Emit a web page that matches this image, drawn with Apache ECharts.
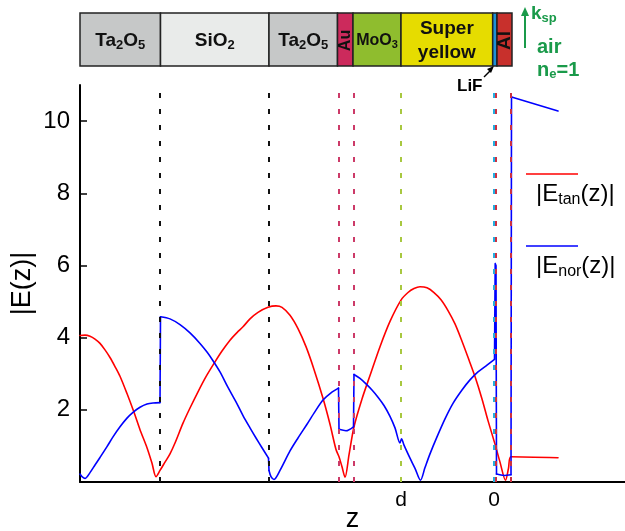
<!DOCTYPE html>
<html>
<head>
<meta charset="utf-8">
<script src="https://cdn.jsdelivr.net/npm/echarts@6/dist/echarts.min.js"></script>
<style>html,body{margin:0;padding:0;background:#fff}#c{width:625px;height:531px}</style>
</head>
<body>
<div id="c"></div>
<script>
// ---- data (z: position, 0 = LiF/Super-yellow interface, d = MoO3/Super-yellow interface) ----
const zTan = [-414,-409,-404,-399,-394,-389,-384,-379,-374,-367,-360,-354,-347,-342,-338,-334,-329,-324,-319,-311,-304,-296,-288,-279,-272,-264,-257,-251,-244,-236,-226,-218,-212,-204,-196,-188,-180,-171,-164,-158,-155,-152,-149,-145,-140,-132,-124,-114,-104,-93,-86,-80,-74,-67,-60,-53,-46,-39,-32,-25,-19,-12,-6,1,6,11.5,14.5,17,64];
const eTan = [4.06,4.07,4.04,3.96,3.84,3.66,3.45,3.2,2.93,2.45,1.93,1.45,0.95,0.52,0.15,0.32,0.55,0.78,1.08,1.63,2.05,2.5,2.92,3.33,3.63,3.93,4.14,4.3,4.52,4.7,4.84,4.88,4.84,4.62,4.25,3.75,3.12,2.32,1.6,0.9,0.7,0.42,0.13,0.75,1.53,2.3,2.95,3.75,4.45,5.04,5.25,5.36,5.41,5.38,5.25,5.05,4.75,4.38,3.9,3.38,2.92,2.3,1.7,1.05,0.55,0.05,0.38,0.7,0.67];

const zNor = [-414,-412,-409,-404,-399,-394,-387,-381,-374,-367,-361,-354,-347,-341,-334,-333.5,-324,-314,-304,-294,-287,-281,-274,-266,-258,-251,-244,-238,-232,-225.5,-225,-223,-220,-214,-204,-196,-187,-179,-171,-163,-155.5,-155,-148,-140.5,-140,-134,-128,-122,-116,-110,-104,-99,-94,-92.5,-90,-84,-79,-73.5,-69,-64,-57,-49,-41,-32,-24,-16,-7,0.5,1.2,2,2.5,10,17,17.5,64];
const eNor = [0.22,0.15,0.1,0.26,0.47,0.68,0.98,1.25,1.53,1.77,1.93,2.07,2.16,2.19,2.2,4.58,4.52,4.36,4.13,3.84,3.6,3.36,3.05,2.62,2.22,1.84,1.5,1.22,0.95,0.66,0.32,0.15,0.07,0.32,0.86,1.22,1.6,1.95,2.27,2.47,2.6,1.46,1.42,1.53,2.98,2.87,2.72,2.55,2.35,2.12,1.82,1.5,1.08,1.2,1.02,0.66,0.38,0.05,0.4,0.78,1.25,1.75,2.18,2.55,2.83,3.05,3.24,3.4,6.05,6.0,0.22,0.18,0.2,10.67,10.28];

// layer stack drawn at the top
const layerNames  = ['Ta2O5','SiO2','Ta2O5','Au','MoO3','Super yellow','LiF','Al'];
const layerLabels = ['Ta{s|2}O{s|5}','SiO{s|2}','Ta{s|2}O{s|5}','Au','MoO{s|3}','Super\nyellow','','Al'];
const layerStart  = [-414,-333.5,-225,-156.5,-141,-93,-1.3,3];
const layerEnd    = [-333.5,-225,-156.5,-141,-93,-1.3,3,18];

// interface positions (dashed lines)
const boundaryZ   = [-334,-225,-155,-140,-93,0,2,17];

// x-axis ticks / labels
const xTickValues  = [-334,-225,-155,-140,-93,0,2,17];
const xLabelValues = [-93,0];
const xLabelTexts  = ['d','0'];
const yTickValues  = [2,4,6,8,10];

// ---- styles ----
const layerColors = ['#c6c8c8','#e9ebea','#c6c8c8','#cc2a5c','#8fbd2e','#e6dc00','#1e90d6','#c8302c'];
const layerFont   = [19,19,19,16,16,19,12,19];
const layerRot    = [0,0,0,Math.PI/2,0,0,0,Math.PI/2];
const boundaryColors = ['#111','#111','#cc3a68','#cc3a68','#a8c840','#22aee0','#cc3040','#cc3040'];
const FONT = "'Liberation Sans', Arial, Helvetica, sans-serif";

// split a curve into smooth pieces and vertical (interface) jumps
function splitCurve(zs, es) {
  const smooth = [], jumps = [];
  for (let i = 0; i < zs.length; i++) {
    smooth.push([zs[i], es[i]]);
    if (i + 1 < zs.length && zs[i + 1] - zs[i] <= 1) {
      smooth.push([zs[i], null]);
      jumps.push([zs[i], es[i]], [zs[i + 1], es[i + 1]], [zs[i + 1], null]);
    }
  }
  return {smooth, jumps};
}
const tanParts = splitCurve(zTan, eTan);
const norParts = splitCurve(zNor, eNor);

const chart = echarts.init(document.getElementById('c'), null, {renderer:'canvas'});
const layerData = layerStart.map((s,i)=>[s, layerEnd[i], i]);

function curve(name, data, color, smooth, z) {
  return {name, type:'line', xAxisIndex:0, yAxisIndex:0, showSymbol:false, symbol:'none', z,
    smooth, connectNulls:false, lineStyle:{color, width:1.6, cap:'round', join:'round'}, data};
}

const option = {
  animation:false,
  backgroundColor:'#fff',
  textStyle:{fontFamily:FONT},
  grid:[
    {left:80, right:0, top:85, bottom:49, outerBoundsMode:'none', containLabel:false},
    {left:80, right:0, top:13, height:53, outerBoundsMode:'none', containLabel:false}
  ],
  xAxis:[
    {type:'value', gridIndex:0, min:-414, max:131,
     axisLine:{show:true, onZero:false, lineStyle:{color:'#000', width:2}},
     axisTick:{show:true, inside:true, length:5, customValues:xTickValues, lineStyle:{color:'#000', width:2}},
     axisLabel:{show:true, customValues:xLabelValues, margin:8, fontSize:21, color:'#000', fontFamily:FONT,
       formatter:(v)=>{const k=xLabelValues.indexOf(v); return k>=0?xLabelTexts[k]:'';}},
     splitLine:{show:false},
     name:'z', nameLocation:'middle', nameGap:24, nameMoveOverlap:false,
     nameTextStyle:{fontSize:27, color:'#000', fontFamily:FONT}
    },
    {type:'value', gridIndex:1, min:-414, max:131, show:false}
  ],
  yAxis:[
    {type:'value', gridIndex:0, min:0, max:11, interval:2,
     axisLine:{show:true, onZero:false, lineStyle:{color:'#000', width:2}},
     axisTick:{show:true, inside:true, length:7, customValues:yTickValues, lineStyle:{color:'#000', width:1.5}},
     axisLabel:{show:true, customValues:yTickValues, margin:10, fontSize:24, color:'#000', fontFamily:FONT},
     splitLine:{show:false},
     name:'|E(z)|', nameLocation:'middle', nameGap:44, nameRotate:90, nameMoveOverlap:false,
     nameTextStyle:{fontSize:27, color:'#000', fontFamily:FONT}
    },
    {type:'value', gridIndex:1, min:0, max:1, show:false}
  ],
  series:[
    {type:'line', xAxisIndex:0, yAxisIndex:0, data:[], silent:true, z:1,
     markLine:{silent:true, symbol:['none','none'], animation:false, label:{show:false},
       data: boundaryZ.map((z,i)=>({xAxis:z, lineStyle:{color:boundaryColors[i], type:[5,11], width:2}}))}
    },
    curve('Etan', tanParts.smooth, '#ff0000', 0.3, 3),
    curve('Etan', tanParts.jumps, '#ff0000', false, 3),
    curve('Enor', norParts.smooth, '#0000ff', 0.3, 4),
    curve('Enor', norParts.jumps, '#0000ff', false, 4),
    {type:'custom', xAxisIndex:1, yAxisIndex:1, clip:false, silent:true, z:5,
     encode:{x:[0,1]},
     data: layerData,
     renderItem:(params, api)=>{
       const s=api.value(0), e=api.value(1), i=api.value(2);
       const p0=api.coord([s,1]), p1=api.coord([e,0]);
       const fs=layerFont[i];
       return {type:'group', children:[
         {type:'rect', shape:{x:p0[0], y:p0[1], width:p1[0]-p0[0], height:p1[1]-p0[1]},
          style:{fill:layerColors[i], stroke:'#222', lineWidth:1.5}},
         {type:'text', x:(p0[0]+p1[0])/2, y:(p0[1]+p1[1])/2+1, rotation:layerRot[i],
          style:{text:layerLabels[i], align:'center', verticalAlign:'middle', fill:'#111',
            font:'bold '+fs+'px '+FONT, lineHeight:24,
            rich:{s:{fontSize:Math.round(fs*0.68), fontWeight:'bold', fontFamily:FONT, fill:'#111', padding:[9,0,0,0]}}}}
       ]};
     }
    }
  ],
  graphic:[
    // LiF annotation
    {type:'text', left:457, top:78, style:{text:'LiF', font:'bold 17px '+FONT, fill:'#000'}},
    {type:'line', shape:{x1:484, y1:77, x2:491, y2:70}, style:{stroke:'#000', lineWidth:1.5}},
    {type:'polygon', shape:{points:[[494,66],[487,69],[491,73]]}, style:{fill:'#000'}},
    // k_sp / air / n_e = 1
    {type:'line', shape:{x1:525, y1:48, x2:525, y2:14}, style:{stroke:'#1a9a4a', lineWidth:2}},
    {type:'polygon', shape:{points:[[525,7],[521,16],[529,16]]}, style:{fill:'#1a9a4a'}},
    {type:'text', left:531, top:4, style:{text:'k{s|sp}', font:'bold 19px '+FONT, fill:'#1a9a4a',
      rich:{s:{fontSize:13, fontWeight:'bold', fill:'#1a9a4a', fontFamily:FONT, padding:[9,0,0,0]}}}},
    {type:'text', left:537, top:37, style:{text:'air', font:'bold 20px '+FONT, fill:'#1a9a4a'}},
    {type:'text', left:537, top:60, style:{text:'n{s|e}=1', font:'bold 20px '+FONT, fill:'#1a9a4a',
      rich:{s:{fontSize:13, fontWeight:'bold', fill:'#1a9a4a', fontFamily:FONT, padding:[9,0,0,0]}}}},
    // legend
    {type:'line', shape:{x1:526, y1:174, x2:578, y2:174}, style:{stroke:'#ff0000', lineWidth:1.5}},
    {type:'text', left:536, top:182, style:{text:'|E{s|tan}(z)|', font:'24px '+FONT, fill:'#000',
      rich:{s:{fontSize:16, fill:'#000', fontFamily:FONT, padding:[12,0,0,0]}}}},
    {type:'line', shape:{x1:526, y1:246, x2:578, y2:246}, style:{stroke:'#0000ff', lineWidth:1.5}},
    {type:'text', left:536, top:254, style:{text:'|E{s|nor}(z)|', font:'24px '+FONT, fill:'#000',
      rich:{s:{fontSize:16, fill:'#000', fontFamily:FONT, padding:[12,0,0,0]}}}}
  ]
};
chart.setOption(option);
</script>
</body>
</html>
